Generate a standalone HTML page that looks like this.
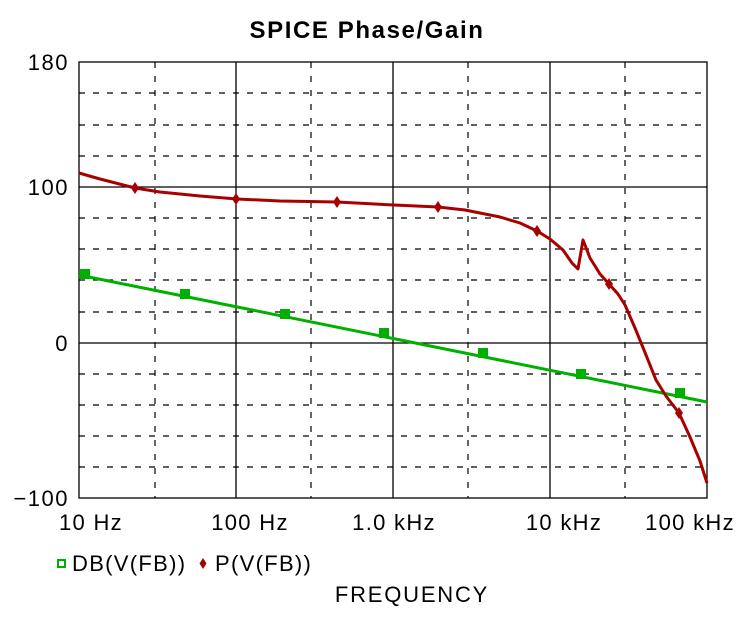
<!DOCTYPE html>
<html><head><style>
body{margin:0;background:#fff;}
svg{display:block;font-family:"Liberation Sans",Arial,sans-serif;}
</style></head><body>
<svg width="747" height="620" viewBox="0 0 747 620">
<rect width="747" height="620" fill="#fff"/>
<text x="367" y="38" font-size="24" font-weight="bold" text-anchor="middle" letter-spacing="1.6">SPICE Phase/Gain</text>
<g stroke="#000" stroke-width="1.2" stroke-dasharray="6,8" fill="none">
<line x1="79" x2="707" y1="93" y2="93"/><line x1="79" x2="707" y1="125" y2="125"/><line x1="79" x2="707" y1="156" y2="156"/>
<line x1="79" x2="707" y1="218" y2="218"/><line x1="79" x2="707" y1="249" y2="249"/><line x1="79" x2="707" y1="280" y2="280"/><line x1="79" x2="707" y1="312" y2="312"/>
<line x1="79" x2="707" y1="374" y2="374"/><line x1="79" x2="707" y1="405" y2="405"/><line x1="79" x2="707" y1="436" y2="436"/><line x1="79" x2="707" y1="467" y2="467"/>
<line x1="155" x2="155" y1="62" y2="498"/><line x1="311" x2="311" y1="62" y2="498"/><line x1="468" x2="468" y1="62" y2="498"/><line x1="625" x2="625" y1="62" y2="498"/>
</g>
<g stroke="#000" stroke-width="1.3" fill="none">
<rect x="79" y="62" width="628" height="436"/>
<line x1="79" x2="707" y1="187" y2="187"/><line x1="79" x2="707" y1="343" y2="343"/>
<line x1="236" x2="236" y1="62" y2="498"/><line x1="393" x2="393" y1="62" y2="498"/><line x1="550" x2="550" y1="62" y2="498"/>
</g>
<g font-size="22" text-anchor="end" letter-spacing="1.5">
<text x="69" y="70">180</text><text x="69" y="195">100</text><text x="69" y="351">0</text><text x="69" y="506">−100</text>
</g>
<g font-size="22" text-anchor="middle" letter-spacing="1.3">
<text x="91" y="530">10 Hz</text><text x="250" y="530">100 Hz</text><text x="394" y="530">1.0 kHz</text><text x="564" y="530">10 kHz</text><text x="690" y="530">100 kHz</text>
</g>
<polyline fill="none" stroke="#00b000" stroke-width="3" points="79,275 707,402"/>
<g fill="#00b000">
<rect x="80" y="269" width="10" height="10"/><rect x="180" y="289" width="10" height="10"/><rect x="280" y="309" width="10" height="10"/><rect x="379" y="328" width="10" height="10"/><rect x="478" y="348" width="10" height="10"/><rect x="576" y="369" width="10" height="10"/><rect x="675" y="388" width="10" height="10"/>
</g>
<polyline fill="none" stroke="#a80000" stroke-width="3" stroke-linejoin="round" points="79,173 100,179 135,188 160,192 200,196 237,199 280,201 337,202 394,205 438,207 465,210 485,214 500,217 520,223 537,231 550,239 563,250 572,263 578,269 583,240 585,245 590,258 600,274 609,284 618,294 625,305 635,328 646,355 656,380 666,396 679,413 690,437 700,461 707,483"/>
<g fill="#a80000">
<path d="M135,182 l4,6 -4,6 -4,-6z"/><path d="M236,193 l4,6 -4,6 -4,-6z"/><path d="M337,196 l4,6 -4,6 -4,-6z"/><path d="M438,201 l4,6 -4,6 -4,-6z"/><path d="M537,225 l4,6 -4,6 -4,-6z"/><path d="M609,278 l4,6 -4,6 -4,-6z"/><path d="M679,407 l4,6 -4,6 -4,-6z"/>
</g>
<rect x="58" y="560" width="7" height="7" fill="none" stroke="#00b000" stroke-width="2"/>
<text x="72" y="571" font-size="22" letter-spacing="1.3">DB(V(FB))</text>
<path d="M203,558 l3.5,5.5 -3.5,5.5 -3.5,-5.5z" fill="#a80000"/>
<text x="215" y="571" font-size="22" letter-spacing="1.3">P(V(FB))</text>
<text x="412" y="602" font-size="22" text-anchor="middle" letter-spacing="1.8">FREQUENCY</text>
</svg>
</body></html>
